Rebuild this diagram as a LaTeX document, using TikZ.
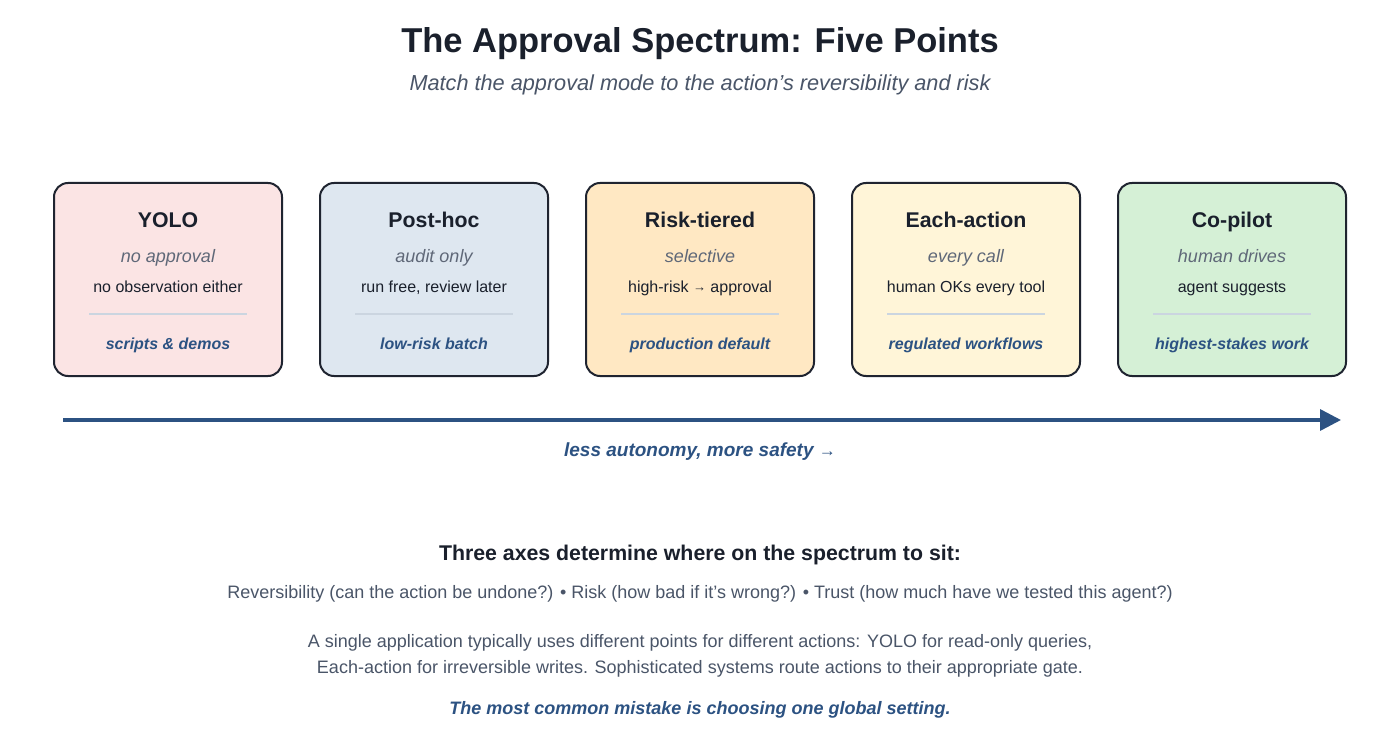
\documentclass[tikz,border=0pt]{standalone}
\usepackage{fontspec}
\setmainfont{Liberation Sans}
\usetikzlibrary{arrows.meta,calc}
\definecolor{ink}{HTML}{1A202C}
\definecolor{slate}{HTML}{4A5568}
\definecolor{mutegray}{HTML}{5F6878}
\definecolor{navy}{HTML}{2C5282}
\definecolor{edge}{HTML}{1F2430}
\definecolor{sepline}{HTML}{CBD5E0}
\definecolor{fillA}{HTML}{FBE4E4}
\definecolor{fillB}{HTML}{DEE7F0}
\definecolor{fillC}{HTML}{FFE8C3}
\definecolor{fillD}{HTML}{FFF5D8}
\definecolor{fillE}{HTML}{D5F0D6}
\tikzset{
  card/.style={draw=edge, line width=2pt, rounded corners=14pt, minimum width=228pt, minimum height=193pt, inner sep=0pt},
  plain/.style={inner sep=0pt, anchor=base},
  cardtitle/.style={plain, font=\fontsize{21.3}{25}\selectfont\bfseries, text=ink},
  cardsub/.style={plain, font=\fontsize{18}{22}\selectfont\itshape, text=mutegray},
  carddesc/.style={plain, font=\fontsize{16}{19}\selectfont, text=ink},
  cardtag/.style={plain, font=\fontsize{16}{19}\selectfont\bfseries\itshape, text=navy},
  sep/.style={draw=sepline, line width=2.5pt}
}
\begin{document}
\begin{tikzpicture}[x=1pt,y=-1pt]
\useasboundingbox[fill=white] (0,0) rectangle (1400,735);
\node[plain, font=\fontsize{34.5}{40}\selectfont\bfseries, text=ink] (title) at (700,52.5) {The Approval Spectrum: Five Points};
\node[plain, font=\fontsize{21.7}{26}\selectfont\itshape, text=slate] (subtitle) at (700,91) {Match the approval mode to the action’s reversibility and risk};

\foreach \i/\x/\col/\t/\s/\d/\g in {
  1/168/fillA/YOLO/no approval/no observation either/scripts \& demos,
  2/434/fillB/Post-hoc/audit only/{run free, review later}/low-risk batch,
  3/700/fillC/Risk-tiered/selective/high-risk {\fontsize{13}{16}\selectfont\raisebox{0.5pt}{→}} approval/production default,
  4/966/fillD/Each-action/every call/human OKs every tool/regulated workflows,
  5/1232/fillE/Co-pilot/human drives/agent suggests/highest-stakes work}{
  \node[card, fill=\col] (b\i) at (\x,279.5) {};
  \node[cardtitle] (t\i) at ($(b\i.north)+(0,45.5)$) {\t};
  \node[cardsub] (s\i) at ($(b\i.north)+(0,81)$) {\s};
  \node[carddesc] (d\i) at ($(b\i.north)+(0,110.5)$) {\d};
  \coordinate (l\i) at ($(b\i.north)+(-79,132)$);
  \coordinate (r\i) at ($(b\i.north)+(79,132)$);
  \draw[sep] (l\i) -- (r\i);
  \node[cardtag] (g\i) at ($(b\i.north)+(0,167.5)$) {\g};
}

\coordinate (as) at (63,420);
\coordinate (ae) at (1341,420);
\draw[navy, line width=3.5pt, -{Triangle[length=21pt,width=21pt]}] (as) -- (ae);
\node[plain, font=\fontsize{19}{23}\selectfont\bfseries\itshape, text=navy] (axis) at (700,456) {less autonomy, more safety {\fontsize{17}{20}\selectfont\upshape →}};

\node[plain, font=\fontsize{21.3}{25}\selectfont\bfseries, text=ink] (three) at (700,560) {Three axes determine where on the spectrum to sit:};
\node[plain, font=\fontsize{18}{22}\selectfont, text=slate] (axes) at (700,598) {Reversibility (can the action be undone?) • Risk (how bad if it’s wrong?) • Trust (how much have we tested this agent?)};
\node[plain, font=\fontsize{18}{22}\selectfont, text=slate] (p1) at (700,647) {A single application typically uses different points for different actions: YOLO for read-only queries,};
\node[plain, font=\fontsize{18}{22}\selectfont, text=slate] (p2) at (700,673) {Each-action for irreversible writes. Sophisticated systems route actions to their appropriate gate.};
\node[plain, font=\fontsize{18}{22}\selectfont\bfseries\itshape, text=navy] (mistake) at (700,714) {The most common mistake is choosing one global setting.};
\end{tikzpicture}
\end{document}
